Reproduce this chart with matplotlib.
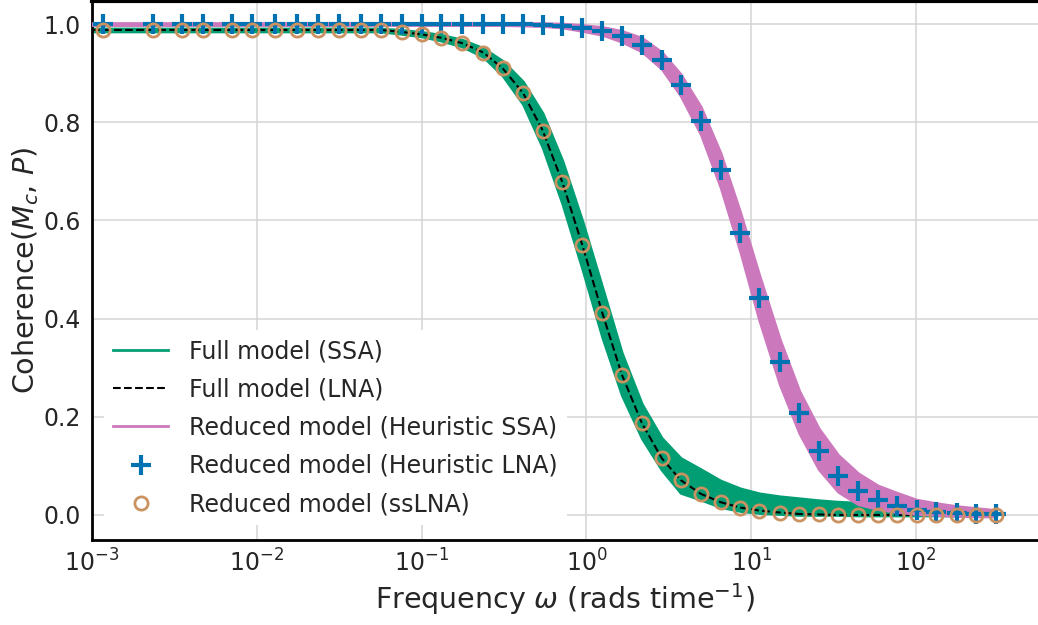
import matplotlib
matplotlib.use("Agg")
import matplotlib.pyplot as plt
import matplotlib.ticker as mticker
import numpy as np

GREEN = "#029E73"
PINK = "#CC78BC"
BLUE = "#0173B2"
TAN = "#CA9161"
GRID = "#d4d4d4"

# frequencies of the plotted markers (rads / time)
omega = np.array([
    0.00117, 0.00236, 0.00353, 0.00473, 0.00710, 0.00938, 0.0129, 0.0176,
    0.0236, 0.0316, 0.0427, 0.0566, 0.0756, 0.100, 0.132, 0.177, 0.237,
    0.310, 0.412, 0.543, 0.714, 0.946, 1.25, 1.64, 2.17, 2.86, 3.73, 4.95,
    6.52, 8.60, 11.2, 14.9, 19.6, 25.7, 33.7, 44.5, 58.6, 76.9, 101, 133,
    176, 231, 305,
])

# Full model, LNA (also the ssLNA reduced model markers)
full_lna = np.array([
    0.988, 0.988, 0.988, 0.988, 0.988, 0.988, 0.988, 0.988, 0.988, 0.988,
    0.988, 0.988, 0.984, 0.979, 0.972, 0.961, 0.942, 0.910, 0.860, 0.783,
    0.678, 0.549, 0.411, 0.286, 0.187, 0.116, 0.071, 0.043, 0.026, 0.015,
    0.009, 0.005, 0.002, 0.001, 0.0, 0.0, 0.0, 0.0, 0.0, 0.0, 0.0, 0.0, 0.0,
])

# Full model, SSA spread (lower / upper envelope)
full_ssa_lo = np.array([
    0.985, 0.985, 0.985, 0.985, 0.985, 0.985, 0.985, 0.985, 0.985, 0.985,
    0.985, 0.985, 0.980, 0.975, 0.966, 0.954, 0.933, 0.895, 0.837, 0.748,
    0.634, 0.500, 0.361, 0.244, 0.156, 0.092, 0.045, 0.031, 0.016, 0.008,
    0.004, 0.002, 0.000, 0.000, 0.000, -0.001, -0.001, -0.001, -0.001,
    -0.001, -0.001, -0.001, -0.001,
])
full_ssa_hi = np.array([
    0.991, 0.991, 0.991, 0.991, 0.991, 0.991, 0.991, 0.991, 0.991, 0.991,
    0.991, 0.991, 0.988, 0.984, 0.978, 0.968, 0.951, 0.925, 0.883, 0.818,
    0.722, 0.598, 0.463, 0.330, 0.226, 0.157, 0.116, 0.093, 0.070, 0.054,
    0.044, 0.038, 0.034, 0.030, 0.027, 0.025, 0.022, 0.019, 0.017, 0.014,
    0.012, 0.010, 0.008,
])

# Reduced model, heuristic LNA
heur_lna = np.array([
    1.0, 1.0, 1.0, 1.0, 1.0, 1.0, 1.0, 1.0, 1.0, 1.0, 1.0, 1.0, 1.0, 1.0,
    1.0, 1.0, 1.0, 1.0, 1.0, 0.999, 0.997, 0.992, 0.986, 0.975, 0.958,
    0.926, 0.876, 0.803, 0.702, 0.575, 0.442, 0.311, 0.207, 0.130, 0.079,
    0.048, 0.030, 0.019, 0.011, 0.007, 0.004, 0.002, 0.001,
])

# Reduced model, heuristic SSA spread
heur_ssa_lo = np.array([
    0.998, 0.998, 0.998, 0.998, 0.998, 0.998, 0.998, 0.998, 0.998, 0.998,
    0.998, 0.998, 0.998, 0.998, 0.998, 0.998, 0.998, 0.998, 0.997, 0.996,
    0.993, 0.986, 0.978, 0.964, 0.944, 0.909, 0.854, 0.775, 0.667, 0.535,
    0.396, 0.266, 0.166, 0.093, 0.047, 0.022, 0.012, 0.006, 0.002, 0.000,
    -0.002, -0.003, -0.003,
])
heur_ssa_hi = np.array([
    1.002, 1.002, 1.002, 1.002, 1.002, 1.002, 1.002, 1.002, 1.002, 1.002,
    1.002, 1.002, 1.002, 1.002, 1.002, 1.002, 1.002, 1.002, 1.002, 1.002,
    1.001, 0.998, 0.994, 0.986, 0.972, 0.943, 0.898, 0.831, 0.737, 0.615,
    0.488, 0.358, 0.252, 0.176, 0.122, 0.085, 0.060, 0.045, 0.031, 0.024,
    0.018, 0.014, 0.010,
])

# the curves start at the left edge of the axes
line_omega = np.concatenate([[0.001], omega])

plt.rcParams.update({
    "font.family": "DejaVu Sans",
    "font.size": 17,
    "text.color": "#262626",
    "axes.labelcolor": "#262626",
    "xtick.color": "#262626",
    "ytick.color": "#262626",
})

fig = plt.figure(figsize=(10.38, 6.25), dpi=100)
ax = fig.add_axes([92 / 1038, 85 / 625, 946 / 1038, 539 / 625])

ax.fill_between(line_omega, np.concatenate([[full_ssa_lo[0]], full_ssa_lo]),
                np.concatenate([[full_ssa_hi[0]], full_ssa_hi]),
                color=GREEN, lw=2, zorder=2)
ax.plot(line_omega, np.concatenate([[full_lna[0]], (full_ssa_lo + full_ssa_hi) / 2]),
        color=GREEN, lw=2, zorder=2, label="Full model (SSA)")
ax.plot(line_omega, np.concatenate([[full_lna[0]], full_lna]),
        color="black", lw=1.5, ls="--", zorder=3, label="Full model (LNA)")
ax.fill_between(line_omega, np.concatenate([[heur_ssa_lo[0]], heur_ssa_lo]),
                np.concatenate([[heur_ssa_hi[0]], heur_ssa_hi]),
                color=PINK, lw=2, zorder=4)
ax.plot(line_omega, np.concatenate([[heur_lna[0]], (heur_ssa_lo + heur_ssa_hi) / 2]),
        color=PINK, lw=2, zorder=4, label="Reduced model (Heuristic SSA)")
ax.plot(omega, heur_lna, ls="none", marker="+", ms=15, mew=3, color=BLUE,
        zorder=5, label="Reduced model (Heuristic LNA)")
ax.plot(omega, full_lna, ls="none", marker="o", ms=9.5, mew=2, mfc="none",
        mec=TAN, zorder=6, label="Reduced model (ssLNA)")

ax.set_xscale("log")
ax.set_xlim(1e-3, 10 ** 2.74)
ax.set_ylim(-0.051, 1.047)
ax.xaxis.set_major_locator(mticker.LogLocator(base=10, numticks=10))
ax.xaxis.set_minor_locator(mticker.NullLocator())
ax.set_yticks([0.0, 0.2, 0.4, 0.6, 0.8, 1.0])
ax.yaxis.set_major_formatter(mticker.FormatStrFormatter("%.1f"))
ax.tick_params(length=0, labelsize=17)
ax.tick_params(axis="y", pad=8)
ax.tick_params(axis="x", pad=7)

ax.grid(True, color=GRID, lw=1.1)
ax.set_axisbelow(True)
for side in ["left", "bottom", "top"]:
    ax.spines[side].set_color("black")
    ax.spines[side].set_linewidth(2)
ax.spines["top"].set_linewidth(3)
ax.spines["right"].set_visible(False)

ax.set_xlabel(r"Frequency $\omega$ (rads time$^{-1}$)", fontsize=20.5, labelpad=3)
ax.set_ylabel(r"Coherence($M_c$, $P$)", fontsize=20.5, labelpad=2)

leg = ax.legend(loc="lower left", bbox_to_anchor=(0.0127, 0.027), borderaxespad=0,
                fontsize=17, frameon=True, facecolor="white", edgecolor="none",
                framealpha=1, handlelength=2.3, handletextpad=0.9,
                labelspacing=0.6, numpoints=1)
leg.set_zorder(10)

fig.savefig("out.png", dpi=100, facecolor="white")
